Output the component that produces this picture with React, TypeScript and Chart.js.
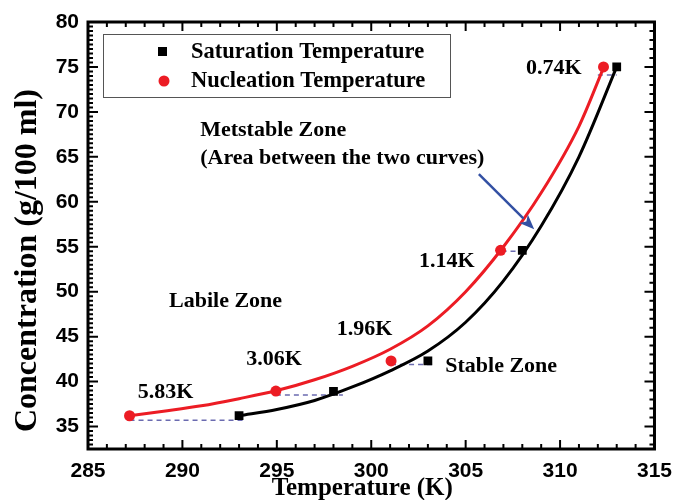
import React, { useEffect, useRef } from "react";
import { Chart, registerables } from "chart.js";
Chart.register(...registerables);

// Measured points
const satT = [293, 298, 303, 308, 313];
const satC = [36.2, 38.9, 42.3, 54.6, 75.0];
const nucT = [287.2, 294.95, 301.05, 306.85, 312.3];
const nucC = [36.2, 38.95, 42.3, 54.6, 75.0];

// Dashed connectors (start T, end T, level)
const dashStartT = [287.2, 294.95, 301.05, 306.9, 312.0];
const dashEndT = [293.2, 298.5, 303.4, 308.3, 313.0];
const dashC = [35.7, 38.5, 41.9, 54.5, 74.1];

// Fitted curves
const redCurveT = [287.2, 289, 291, 293, 295, 297, 299, 301, 303, 305, 307, 309, 311, 312.3];
const redCurveC = [36.2, 36.7, 37.3, 38.1, 39.0, 40.2, 41.7, 43.6, 46.2, 50.0, 55.0, 61.0, 68.4, 74.9];
const blackCurveT = [293, 295, 297, 299, 301, 303, 305, 307, 309, 311, 313];
const blackCurveC = [36.2, 36.9, 37.9, 39.4, 41.2, 43.4, 46.6, 51.2, 57.3, 65.0, 75.0];

const xTicks = [285, 290, 295, 300, 305, 310, 315];
const yTicks = [35, 40, 45, 50, 55, 60, 65, 70, 75, 80];

const legendLabels = ["Saturation Temperature", "Nucleation Temperature"];

const noteTexts = ["0.74K", "Metstable Zone", "(Area between the two curves)", "1.14K", "Labile Zone", "1.96K", "3.06K", "Stable Zone", "5.83K"];
const noteT = [311.14, 290.94, 290.94, 302.53, 289.29, 298.17, 293.38, 303.92, 287.63];
const noteC = [74.24, 67.35, 64.2, 52.78, 48.35, 45.22, 41.88, 41.02, 38.16];
const noteAlign = ["right", "left", "left", "left", "left", "left", "left", "left", "left"];

const arrowFrom = { t: 305.7, c: 63.08 };
const arrowTo = { t: 308.63, c: 56.94 };

const RED = "#ec1c24";
const BLUE = "#3350a3";
const SERIF = "'Liberation Serif', 'Times New Roman', serif";
const SANS = "'Liberation Sans', Arial, sans-serif";

const zip = (xs: number[], ys: number[]) => xs.map((x, i) => ({ x, y: ys[i] }));

const decorPlugin = {
  id: "decor",
  afterDraw(chart: any) {
    const { ctx, chartArea: a, scales } = chart;
    const xs = scales.x, ys = scales.y;
    ctx.save();
    // frame
    ctx.strokeStyle = "#000";
    ctx.lineWidth = 3;
    ctx.strokeRect(a.left, a.top, a.right - a.left, a.bottom - a.top);
    // ticks
    ctx.lineWidth = 2;
    ctx.beginPath();
    for (let v = 285; v <= 315; v += 1) {
      const px = xs.getPixelForValue(v);
      const major = v % 5 === 0;
      const l = major ? 9 : 5;
      ctx.moveTo(px, a.bottom); ctx.lineTo(px, a.bottom - l);
      ctx.moveTo(px, a.top); ctx.lineTo(px, a.top + l);
    }
    for (let k = 65; k <= 160; k += 1) {
      const v = k / 2;
      const py = ys.getPixelForValue(v);
      const major = k % 10 === 0;
      ctx.moveTo(a.left, py); ctx.lineTo(a.left + (major ? 10 : 5), py);
      if (k % 2 === 0) {
        ctx.moveTo(a.right, py); ctx.lineTo(a.right - (major ? 10 : 5), py);
      }
    }
    ctx.stroke();

    // legend box
    const bx = a.left + 15, by = a.top + 12, bw = 347, bh = 63;
    ctx.lineWidth = 1;
    ctx.strokeStyle = "#555";
    ctx.strokeRect(bx + 0.5, by + 0.5, bw, bh);
    ctx.fillStyle = "#000";
    ctx.fillRect(bx + 55, by + 13, 9, 9);
    ctx.fillStyle = RED;
    ctx.beginPath();
    ctx.arc(bx + 61, by + 47, 5.5, 0, Math.PI * 2);
    ctx.fill();
    ctx.fillStyle = "#000";
    ctx.font = `bold 22.5px ${SERIF}`;
    ctx.textAlign = "left";
    ctx.textBaseline = "middle";
    ctx.fillText(legendLabels[0], bx + 88, by + 18);
    ctx.fillText(legendLabels[1], bx + 88, by + 47);

    // annotations
    ctx.font = `bold 22px ${SERIF}`;
    ctx.textBaseline = "alphabetic";
    noteTexts.forEach((t, i) => {
      ctx.textAlign = noteAlign[i] as CanvasTextAlign;
      ctx.fillText(t, xs.getPixelForValue(noteT[i]), ys.getPixelForValue(noteC[i]));
    });

    // arrow
    const x1 = xs.getPixelForValue(arrowFrom.t), y1 = ys.getPixelForValue(arrowFrom.c);
    const x2 = xs.getPixelForValue(arrowTo.t), y2 = ys.getPixelForValue(arrowTo.c);
    const ang = Math.atan2(y2 - y1, x2 - x1);
    const hl = 15, hw = 6;
    const bxp = x2 - hl * Math.cos(ang), byp = y2 - hl * Math.sin(ang);
    ctx.strokeStyle = BLUE;
    ctx.fillStyle = BLUE;
    ctx.lineWidth = 2.5;
    ctx.beginPath();
    ctx.moveTo(x1, y1);
    ctx.lineTo(bxp, byp);
    ctx.stroke();
    ctx.beginPath();
    ctx.moveTo(x2, y2);
    ctx.lineTo(bxp + hw * Math.sin(ang), byp - hw * Math.cos(ang));
    ctx.lineTo(x2 - (hl - 4) * Math.cos(ang), y2 - (hl - 4) * Math.sin(ang));
    ctx.lineTo(bxp - hw * Math.sin(ang), byp + hw * Math.cos(ang));
    ctx.closePath();
    ctx.fill();

    // axis titles
    ctx.fillStyle = "#000";
    ctx.textAlign = "center";
    ctx.textBaseline = "middle";
    ctx.font = `bold 25px ${SERIF}`;
    ctx.fillText("Temperature (K)", (a.left + a.right) / 2 - 9, a.bottom + 40);
    ctx.translate(28, (a.top + a.bottom) / 2 + 25);
    ctx.rotate(-Math.PI / 2);
    ctx.font = `bold 32px ${SERIF}`;
    ctx.fillText("Concentration (g/100 ml)", 0, 0);
    ctx.restore();
  },
};

export default function App() {
  const ref = useRef<HTMLCanvasElement>(null);
  useEffect(() => {
    document.body.style.margin = "0";
    const dashSets = dashC.map((c, i) => ({
      type: "line" as const,
      data: [{ x: dashStartT[i], y: c }, { x: dashEndT[i], y: c }],
      borderColor: "#6b6bb0",
      borderWidth: 1.5,
      borderDash: [5, 4],
      pointRadius: 0,
      order: 3,
    }));
    const chart = new Chart(ref.current!, {
      type: "scatter",
      data: {
        datasets: [
          {
            type: "scatter",
            label: legendLabels[0],
            data: zip(satT, satC),
            pointStyle: "rect",
            pointRadius: 6.2,
            backgroundColor: "#000",
            borderColor: "#000",
            borderWidth: 0,
            order: 0,
          },
          {
            type: "scatter",
            label: legendLabels[1],
            data: zip(nucT, nucC),
            pointStyle: "circle",
            pointRadius: 5.5,
            backgroundColor: RED,
            borderColor: RED,
            borderWidth: 0,
            order: 0,
          },
          {
            type: "line",
            data: zip(redCurveT, redCurveC),
            borderColor: RED,
            borderWidth: 3,
            pointRadius: 0,
            cubicInterpolationMode: "monotone",
            order: 1,
          },
          {
            type: "line",
            data: zip(blackCurveT, blackCurveC),
            borderColor: "#000",
            borderWidth: 3,
            pointRadius: 0,
            cubicInterpolationMode: "monotone",
            order: 1,
          },
          ...dashSets,
        ] as any,
      },
      options: {
        animation: false,
        responsive: false,
        layout: { padding: { top: 22, right: 20, left: 0, bottom: 0 } },
        plugins: { legend: { display: false }, tooltip: { enabled: false } },
        scales: {
          x: {
            type: "linear",
            min: 285,
            max: 315,
            grid: { display: false, drawTicks: false },
            border: { display: false },
            afterBuildTicks: (s: any) => { s.ticks = xTicks.map((v) => ({ value: v })); },
            afterFit: (s: any) => { s.height = 51; },
            ticks: {
              padding: 10,
              color: "#000",
              font: { family: SANS, weight: "bold", size: 21 },
              maxRotation: 0,
            },
          },
          y: {
            type: "linear",
            min: 32.5,
            max: 80,
            grid: { display: false, drawTicks: false },
            border: { display: false },
            afterBuildTicks: (s: any) => { s.ticks = yTicks.map((v) => ({ value: v })); },
            afterFit: (s: any) => { s.width = 88; },
            ticks: {
              padding: 9,
              color: "#000",
              font: { family: SANS, weight: "bold", size: 21 },
            },
          },
        },
      },
      plugins: [decorPlugin],
    });
    return () => chart.destroy();
  }, []);
  return <canvas ref={ref} width={682} height={500} style={{ display: "block" }} />;
}
